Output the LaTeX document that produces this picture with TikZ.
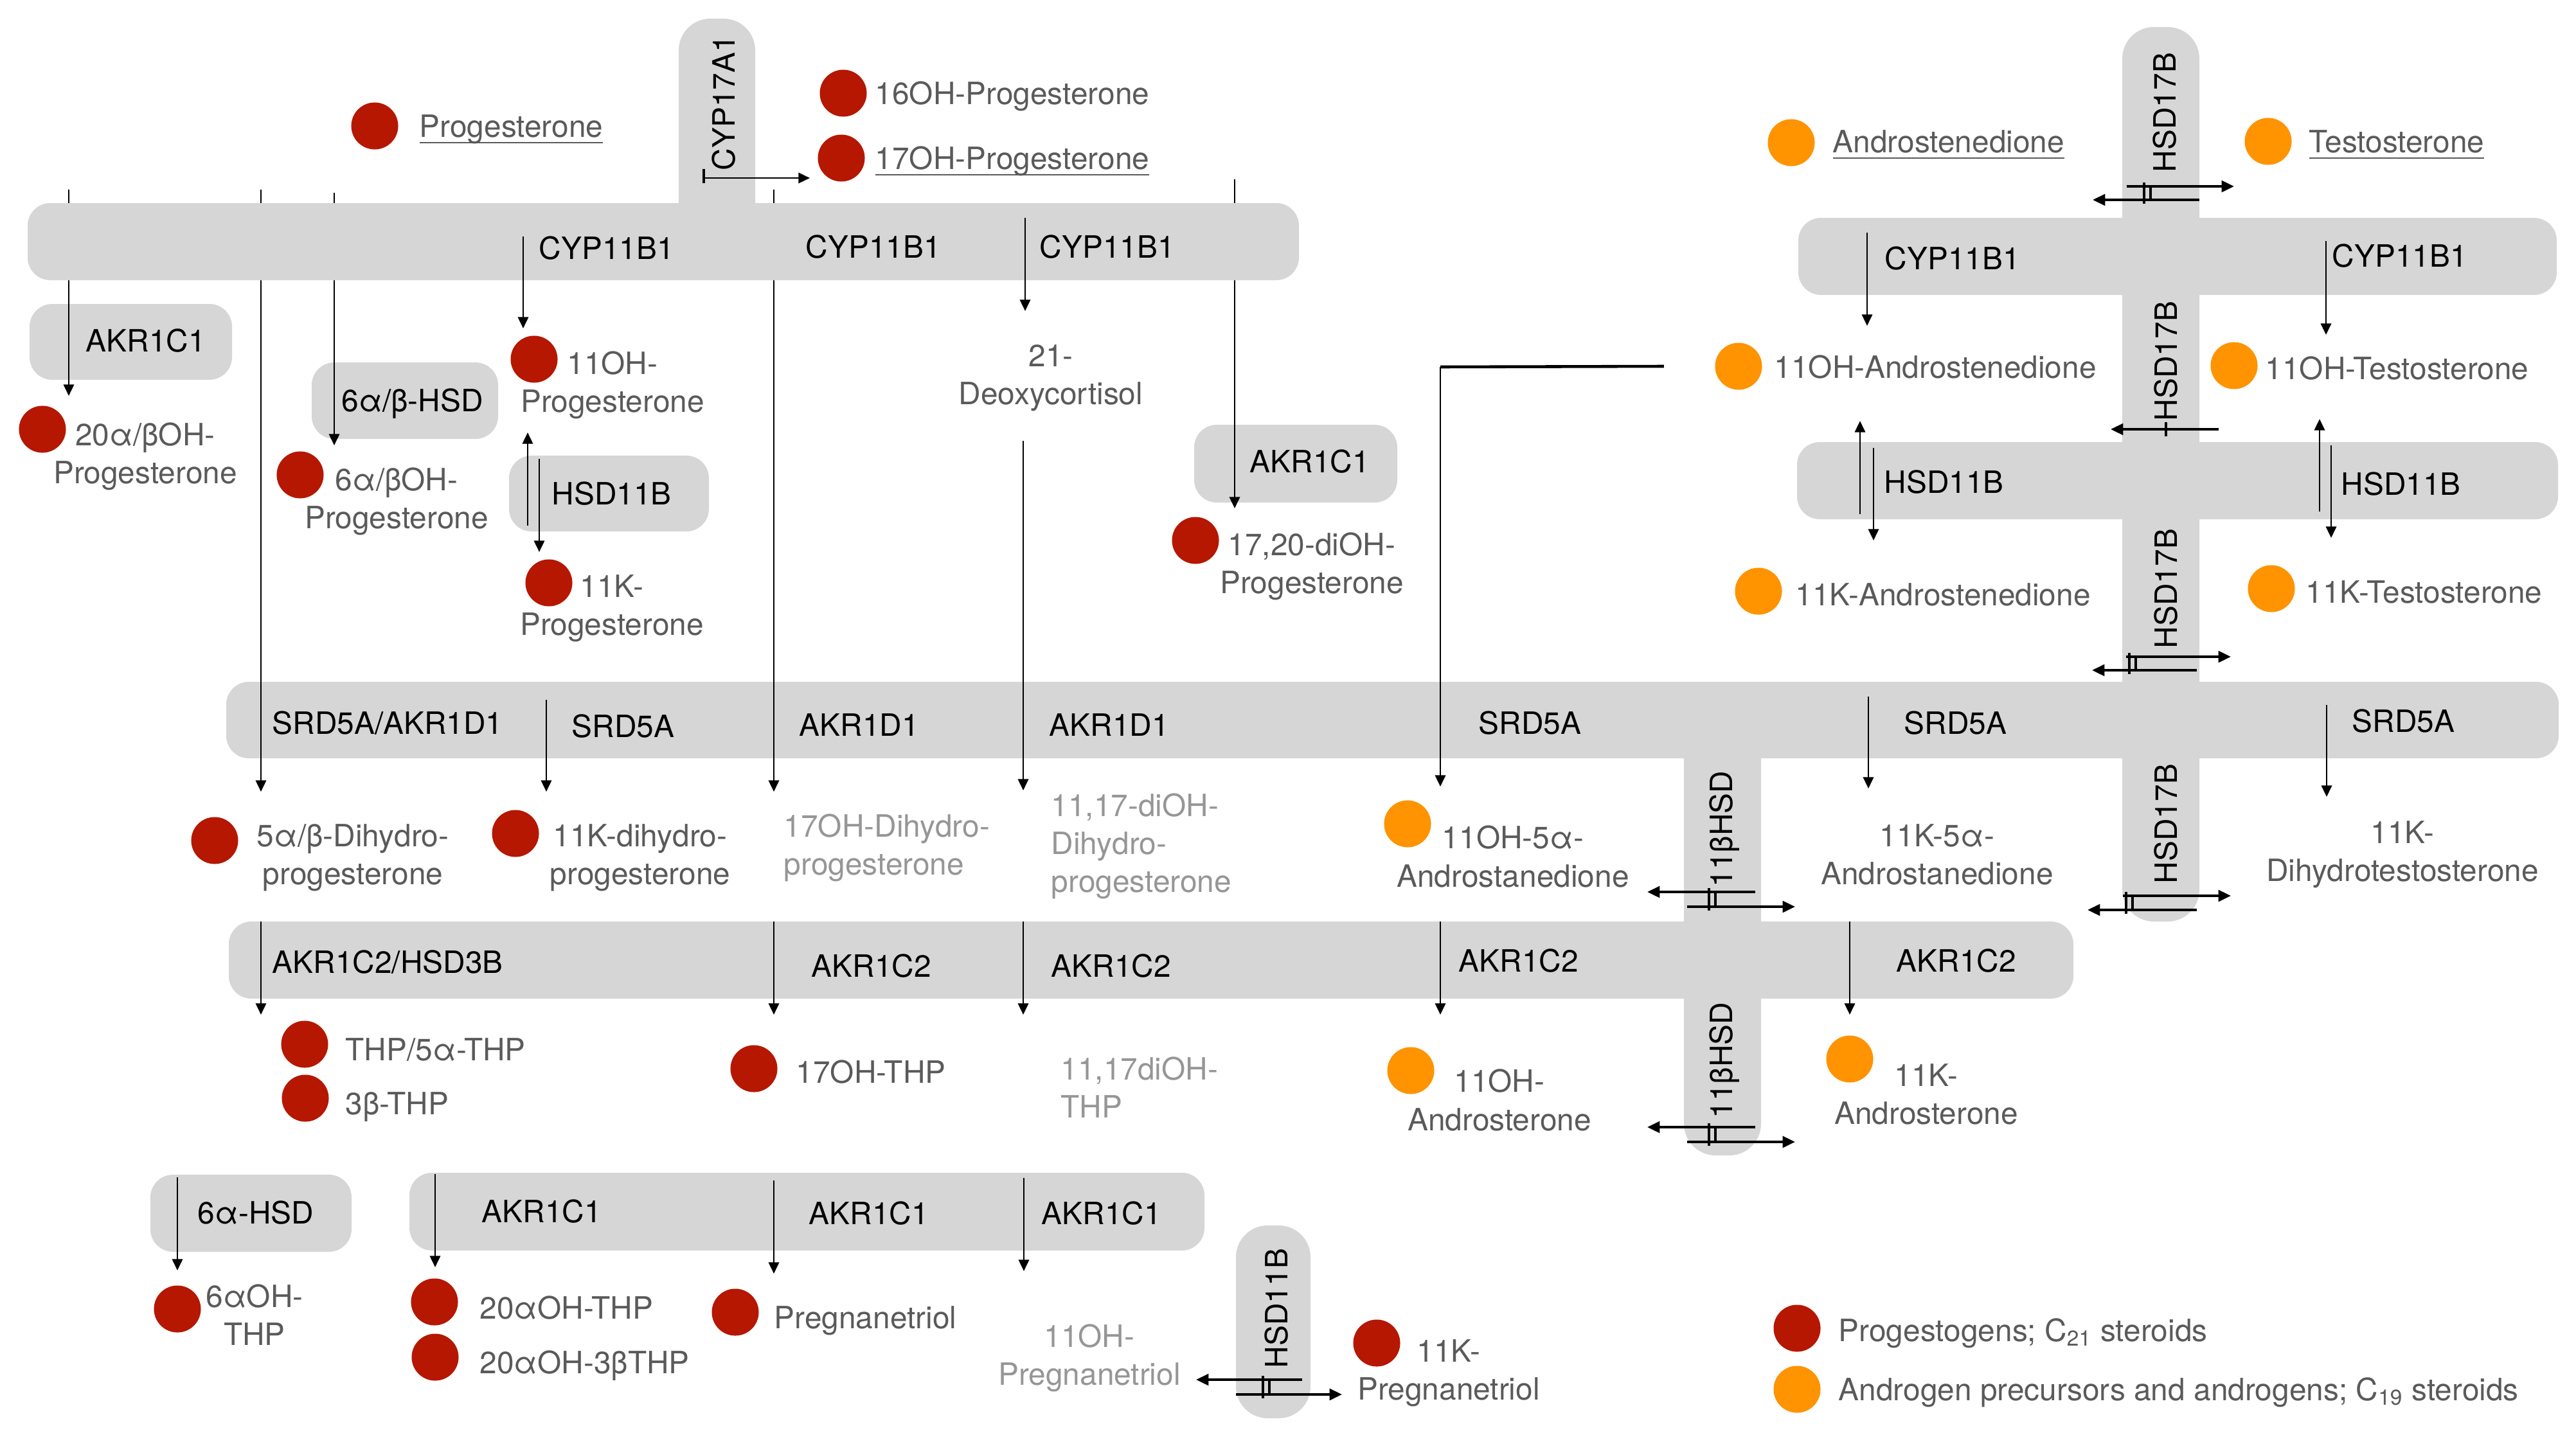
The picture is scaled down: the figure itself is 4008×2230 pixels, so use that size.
\documentclass[tikz,border=0pt]{standalone}
\usepackage{fontspec}
\setmainfont{TeX Gyre Heros}
\usepackage{xcolor}
\usetikzlibrary{arrows.meta}

\definecolor{boxgray}{RGB}{214,214,214}
\definecolor{progred}{RGB}{181,23,0}
\definecolor{androrange}{RGB}{255,147,0}
\definecolor{lbldark}{RGB}{90,90,90}
\definecolor{lbllight}{RGB}{150,150,150}

\newcommand{\txtsize}{\fontsize{13.6}{16.8}\selectfont}
\newcommand{\undl}[1]{\sbox0{#1}\rlap{\rule[-2.8pt]{\wd0}{0.7pt}}\usebox0}

\begin{document}
\begin{tikzpicture}[x=0.01cm, y=-0.01cm,
        box/.style={fill=boxgray, rounded corners=10pt},
        strip/.style={fill=boxgray, rounded corners=14pt},
        enz/.style={font=\txtsize, text=black, inner sep=0pt, anchor=west,
                    text height=9.8pt, text depth=0pt},
        rot/.style={font=\txtsize, text=black, inner sep=0pt, rotate=90},
        lbl/.style={font=\txtsize, text=lbldark, inner sep=0pt, anchor=west,
                    text height=9.8pt, text depth=0pt},
        lblc/.style={font=\txtsize, text=lbldark, inner sep=0pt, align=center},
        lbll/.style={font=\txtsize, text=lbllight, inner sep=0pt, align=left, anchor=west},
        ball/.style={circle, inner sep=0pt, minimum size=0.73cm},
        arr/.style={-{Triangle[length=5pt, width=4.6pt]}, line width=0.8pt},
        rev/.style={-{Triangle[length=5.5pt, width=5pt]}, line width=1.1pt},
        revtick/.style={line width=1pt}
    ]
    \useasboundingbox (0,0) rectangle (4008,2230);
    % enzyme boxes
    \fill[box] (46,473) rectangle (361,591);       % AKR1C1
    \fill[box] (485,564) rectangle (775,683);      % 6a/b-HSD
    \fill[box] (792,709) rectangle (1103,827);     % HSD11B
    \fill[box] (1858,661) rectangle (2174,782);    % AKR1C1
    \fill[box] (2798,339) rectangle (3978,459);    % CYP11B1, androgens
    \fill[box] (2796,688) rectangle (3980,808);    % HSD11B, androgens
    \fill[box] (352,1061) rectangle (3981,1180);   % SRD5A / AKR1D1
    \fill[box] (356,1434) rectangle (3226,1554);   % AKR1C2
    \fill[box] (234,1828) rectangle (547,1948);    % 6a-HSD
    \fill[box] (637,1825) rectangle (1874,1946);   % AKR1C1
    % vertical strips
    \fill[strip] (3302,42) rectangle (3422,1434);   % HSD17B
    \fill[strip] (2620,1120) rectangle (2740,1798); % 11bHSD
    \fill[strip] (1923,1907) rectangle (2039,2207); % HSD11B
    % steps that run under the CYP11B1 bar
    \foreach \n/\x/\ya/\yb in {la/107/295/616, lb/406/295/1232, lc/520/300/693,
                               ld/1204/295/1232, le/1921/279/791}{
        \coordinate (\n0) at (\x,\ya);
        \coordinate (\n1) at (\x,\yb);
        \draw[arr] (\n0) -- (\n1);
    }
    % CYP11B1 bar and CYP17A1
    \fill[strip] (1056,29) rectangle (1175,380);
    \fill[box] (43,316) rectangle (2021,436);
    % one-way steps
    \foreach \n/\x/\ya/\yb in {c1/814/368/511, c2/1595/339/484, c3/2905/362/507,
            c4/3619/375/521, h1/821/818/673, h2/839/714/859, h3/2894/800/655,
            h4/2915/697/841, h5/3609/796/652, h6/3627/693/837, dx/1592/686/1230,
            s1/850/1089/1232, s2/2907/1084/1227, s3/3620/1097/1240,
            r1/406/1434/1579, r2/1204/1434/1579, r3/1592/1434/1579,
            r4/2241/1434/1579, r5/2878/1434/1579,
            t1/276/1832/1977, t2/677/1827/1972, t3/1204/1837/1982, t4/1593/1833/1978}{
        \coordinate (\n0) at (\x,\ya);
        \coordinate (\n1) at (\x,\yb);
        \draw[arr] (\n0) -- (\n1);
    }
    % CYP17A1 step
    \coordinate (cyp0) at (1095,277);
    \coordinate (cyp1) at (1260,277);
    \draw[revtick] (1095,263) -- (1095,285);
    \draw[arr] (cyp0) -- (cyp1);
    % reversible steps
    \foreach \n/\xa/\xb/\y in {ha1/3309/3476/290, ha2/3422/3256/311, hb/3452/3284/668,
            hc1/3308/3471/1022, hc2/3418/3255/1043, hd1/3303/3471/1394,
            hd2/3418/3248/1416, ba1/2731/2563/1388, ba2/2625/2793/1411,
            bb1/2731/2563/1754, bb2/2625/2793/1777, hs1/2026/1861/2147,
            hs2/1923/2088/2170}{
        \coordinate (\n0) at (\xa,\y);
        \coordinate (\n1) at (\xb,\y);
        \draw[rev] (\n0) -- (\n1);
    }
    \foreach \x/\ya/\yb in {3336/284/317, 3346/290/311, 3370/657/679, 3313/1016/1049,
            3323/1022/1043, 3308/1388/1422, 3318/1394/1416, 2659/1382/1417,
            2669/1388/1411, 2659/1748/1783, 2669/1754/1777, 1965/2141/2176,
            1975/2147/2170}
        \draw[revtick] (\x,\ya) -- (\x,\yb);
    % enzymes
    \foreach \x/\y/\t [count=\i] in {838/386/CYP11B1, 1253/384/CYP11B1, 1617/384/CYP11B1,
            133/530/AKR1C1, 531/623/{6α/β-HSD}, 858/768/HSD11B, 1944/718/AKR1C1,
            2932/402/CYP11B1, 3628/398/CYP11B1, 2931/750/HSD11B, 3642/753/HSD11B,
            423/1125/{SRD5A/AKR1D1}, 889/1130/SRD5A, 1243/1128/AKR1D1, 1632/1128/AKR1D1,
            2300/1125/SRD5A, 2962/1125/SRD5A, 3659/1122/SRD5A,
            423/1497/{AKR1C2/HSD3B}, 1262/1503/AKR1C2, 1635/1503/AKR1C2,
            2269/1495/AKR1C2, 2950/1495/AKR1C2,
            307/1887/6α-HSD, 749/1885/AKR1C1, 1258/1888/AKR1C1, 1620/1888/AKR1C1}
        \node[enz] (enz\i) at (\x,\y) {\t};
    \foreach \x/\y/\t [count=\i] in {1126/160/CYP17A1, 3368/175/HSD17B, 3370/562/HSD17B,
            3370/916/HSD17B, 3370/1282/HSD17B, 2683/1290/11βHSD, 2683/1650/11βHSD,
            1986/2036/HSD11B}
        \node[rot] (rot\i) at (\x,\y) {\t};
    % progestogens
    \foreach \n/\x/\y in {prog/583/196, ohprog16/1312/145, ohprog17/1309/246,
            ohprog11/831/559, ohprog20/66/668, ohprog6/467/739, kprog11/854/907,
            diohprog/1860/841, dhprog5/334/1308, kdhprog/802/1297, thp/474/1625,
            thpb3/475/1709, ohthp17/1173/1663, ohthp6/276/2037, ohthp20/676/2026,
            ohthpb20/677/2112, pregn/1144/2042, kpregn/2142/2090, legp/2796/2067}
        \node[ball, fill=progred] (\n) at (\x,\y) {};
    % androgens
    \foreach \n/\x/\y in {andro/2787/222, testo/3529/220, ohandro/2705/570,
            ohtesto/3476/569, kandro/2736/920, ktesto/3534/916, ohandrost/2190/1282,
            ohandros/2195/1666, kandros/2878/1648, lega/2796/2162}
        \node[ball, fill=androrange] (\n) at (\x,\y) {};
    % 11OH-androstenedione to SRD5A
    \coordinate (ohturn) at (2241,571);
    \coordinate (ohtip) at (2241,1224);
    \draw[line width=1.3pt] ([xshift=-0.79cm]ohandro.west) -- (ohturn);
    \draw[arr] (ohturn) -- (ohtip);
    % metabolite labels
    \foreach \x/\y/\t [count=\i] in {652/196/{\undl{Progesterone}},
            1361/145/16OH-Progesterone, 1361/246/{\undl{17OH-Progesterone}},
            2851/220/{\undl{Androstenedione}}, 3592/220/{\undl{Testosterone}},
            2760/571/11OH-Androstenedione, 3524/573/11OH-Testosterone,
            2793/925/11K-Androstenedione, 3587/921/11K-Testosterone,
            537/1633/{THP/5α-THP}, 537/1717/3β-THP, 1238/1668/17OH-THP,
            746/2035/20αOH-THP, 746/2120/20αOH-3βTHP, 1204/2050/Pregnanetriol,
            2860/2070/{Progestogens; C\textsubscript{21} steroids},
            2860/2162/{Androgen precursors and androgens; C\textsubscript{19} steroids}}
        \node[lbl] (lbl\i) at (\x,\y) {\t};
    \foreach \x/\y/\t [count=\i] in {226/710/{20α/βOH-\\Progesterone},
            617/780/{6α/βOH-\\Progesterone}, 953/599/{11OH-\\Progesterone},
            952/947/{11K-\\Progesterone}, 1635/588/{21-\\Deoxycortisol},
            2041/881/{17,20-diOH-\\Progesterone}, 549/1335/{5α/β-Dihydro-\\progesterone},
            996/1335/{11K-dihydro-\\progesterone}, 2354/1333/{11OH-5α-\\Androstanedione},
            3014/1330/{11K-5α-\\Androstanedione}, 3738/1330/{11K-\\Dihydrotestosterone},
            2333/1712/{11OH-\\Androsterone}, 2997/1703/{11K-\\Androsterone},
            396/2046/{6αOH-\\THP}, 2254/2137/{11K-\\Pregnanetriol}}
        \node[lblc] (lblc\i) at (\x,\y) {\t};
    \node[lblc, text=lbllight] (ohpregn) at (1695,2113) {11OH-\\Pregnanetriol};
    \foreach \x/\y/\t [count=\i] in {1219/1319/{17OH-Dihydro-\\progesterone},
            1635/1317/{11,17-diOH-\\Dihydro-\\progesterone}, 1650/1692/{11,17diOH-\\THP}}
        \node[lbll] (lbll\i) at (\x,\y) {\t};
\end{tikzpicture}
\end{document}
